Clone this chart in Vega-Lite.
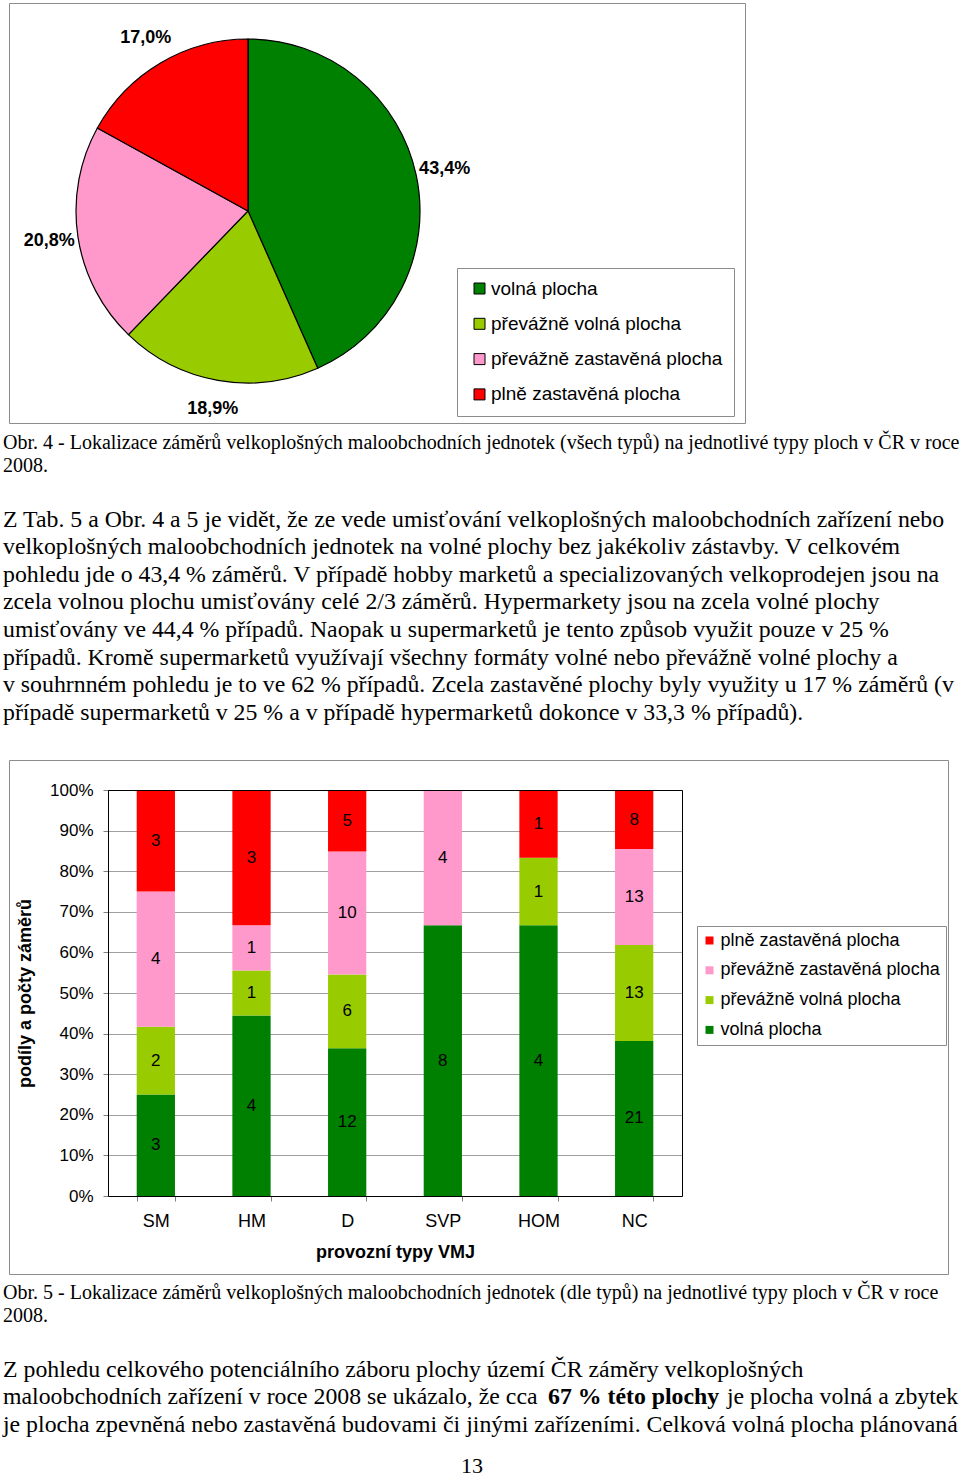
{
  "$schema": "https://vega.github.io/schema/vega-lite/v6.json",
  "padding": {"left": 3, "top": 2, "right": 0, "bottom": 0},
  "background": "white",
  "spacing": 0,
  "bounds": "flush",
  "resolve": {"scale": {"color": "independent"}, "legend": {"color": "independent"}},
  "config": {
    "view": {"stroke": null},
    "font": "Liberation Sans",
    "text": {"font": "Liberation Sans", "color": "black"}
  },
  "vconcat": [
    {
      "width": 736, "height": 420,
      "view": {"stroke": "#8c8c8c", "strokeWidth": 1},
      "data": {"values": [
        {"plocha": "volná plocha", "podil": 43.4, "popisek": "43,4%", "poradi": 1},
        {"plocha": "převážně volná plocha", "podil": 18.9, "popisek": "18,9%", "poradi": 2},
        {"plocha": "převážně zastavěná plocha", "podil": 20.8, "popisek": "20,8%", "poradi": 3},
        {"plocha": "plně zastavěná plocha", "podil": 17.0, "popisek": "17,0%", "poradi": 4}
      ]},
      "layer": [
        {
          "mark": {"type": "arc", "x": 239, "y": 208, "outerRadius": 172, "stroke": "black", "strokeWidth": 1.2},
          "encoding": {
            "theta": {"field": "podil", "type": "quantitative", "stack": true},
            "order": {"field": "poradi", "type": "quantitative"},
            "color": {
              "field": "plocha", "type": "nominal",
              "scale": {
                "domain": ["volná plocha", "převážně volná plocha", "převážně zastavěná plocha", "plně zastavěná plocha"],
                "range": ["#008000", "#99CC00", "#FF99CC", "#FF0000"]
              },
              "legend": {
                "title": null, "orient": "none", "legendX": 448, "legendY": 265,
                "direction": "vertical", "symbolType": "square", "symbolSize": 121,
                "symbolStrokeColor": "black", "symbolStrokeWidth": 1,
                "labelFontSize": 19, "labelFont": "Liberation Sans", "labelColor": "black",
                "rowPadding": 15.3, "padding": 11, "strokeColor": "#8c8c8c", "fillColor": "white",
                "labelOffset": 2, "symbolOffset": 2, "labelLimit": 400
              }
            }
          }
        },
        {
          "mark": {"type": "text", "x": 239, "y": 208, "radius": 201, "fontSize": 18, "fontWeight": "bold", "font": "Liberation Sans", "color": "black"},
          "encoding": {
            "theta": {"field": "podil", "type": "quantitative", "stack": true},
            "order": {"field": "poradi", "type": "quantitative"},
            "text": {"field": "popisek"}
          }
        }
      ]
    },
    {"width": 939, "height": 13.5, "data": {"values": []}, "mark": "text", "encoding": {}},
    {
      "width": 939, "height": 46,
      "data": {"values": [
        {"radek": 1, "text": "Obr. 4 - Lokalizace záměrů velkoplošných maloobchodních jednotek (všech typů) na jednotlivé typy ploch v ČR v roce"},
        {"radek": 2, "text": "2008."}
      ]},
      "mark": {"type": "text", "x": -6, "align": "left", "baseline": "alphabetic", "font": "Liberation Serif", "fontSize": 20, "color": "black"},
      "encoding": {
        "y": {"field": "radek", "type": "ordinal", "axis": null, "scale": {"type": "point", "padding": 0.5}},
        "text": {"field": "text"}
      }
    },
    {"width": 939, "height": 29.9, "data": {"values": []}, "mark": "text", "encoding": {}},
    {
      "width": 939, "height": 220.4,
      "data": {"values": [
        {"radek": 1, "text": "Z Tab. 5 a Obr. 4 a 5 je vidět, že ze vede umisťování velkoplošných maloobchodních zařízení nebo"},
        {"radek": 2, "text": "velkoplošných maloobchodních jednotek na volné plochy bez jakékoliv zástavby. V celkovém"},
        {"radek": 3, "text": "pohledu jde o 43,4 % záměrů. V případě hobby marketů a specializovaných velkoprodejen jsou na"},
        {"radek": 4, "text": "zcela volnou plochu umisťovány celé 2/3 záměrů. Hypermarkety jsou na zcela volné plochy"},
        {"radek": 5, "text": "umisťovány ve 44,4 % případů. Naopak u supermarketů je tento způsob využit pouze v 25 %"},
        {"radek": 6, "text": "případů. Kromě supermarketů využívají všechny formáty volné nebo převážně volné plochy a"},
        {"radek": 7, "text": "v souhrnném pohledu je to ve 62 % případů. Zcela zastavěné plochy byly využity u 17 % záměrů (v"},
        {"radek": 8, "text": "případě supermarketů v 25 % a v případě hypermarketů dokonce v 33,3 % případů)."}
      ]},
      "mark": {"type": "text", "x": -6, "align": "left", "baseline": "alphabetic", "font": "Liberation Serif", "fontSize": 23.8, "color": "black"},
      "encoding": {
        "y": {"field": "radek", "type": "ordinal", "axis": null, "scale": {"type": "point", "padding": 0.5}},
        "text": {"field": "text"}
      }
    },
    {"width": 939, "height": 25.2, "data": {"values": []}, "mark": "text", "encoding": {}},
    {
      "width": 939, "height": 514,
      "view": {"stroke": "#8c8c8c", "strokeWidth": 1},
      "data": {"values": [
        {"vmj": "SM", "druh": "volná plocha", "pocet": 3, "poradi": 1},
        {"vmj": "SM", "druh": "převážně volná plocha", "pocet": 2, "poradi": 2},
        {"vmj": "SM", "druh": "převážně zastavěná plocha", "pocet": 4, "poradi": 3},
        {"vmj": "SM", "druh": "plně zastavěná plocha", "pocet": 3, "poradi": 4},
        {"vmj": "HM", "druh": "volná plocha", "pocet": 4, "poradi": 1},
        {"vmj": "HM", "druh": "převážně volná plocha", "pocet": 1, "poradi": 2},
        {"vmj": "HM", "druh": "převážně zastavěná plocha", "pocet": 1, "poradi": 3},
        {"vmj": "HM", "druh": "plně zastavěná plocha", "pocet": 3, "poradi": 4},
        {"vmj": "D", "druh": "volná plocha", "pocet": 12, "poradi": 1},
        {"vmj": "D", "druh": "převážně volná plocha", "pocet": 6, "poradi": 2},
        {"vmj": "D", "druh": "převážně zastavěná plocha", "pocet": 10, "poradi": 3},
        {"vmj": "D", "druh": "plně zastavěná plocha", "pocet": 5, "poradi": 4},
        {"vmj": "SVP", "druh": "volná plocha", "pocet": 8, "poradi": 1},
        {"vmj": "SVP", "druh": "převážně zastavěná plocha", "pocet": 4, "poradi": 3},
        {"vmj": "HOM", "druh": "volná plocha", "pocet": 4, "poradi": 1},
        {"vmj": "HOM", "druh": "převážně volná plocha", "pocet": 1, "poradi": 2},
        {"vmj": "HOM", "druh": "plně zastavěná plocha", "pocet": 1, "poradi": 4},
        {"vmj": "NC", "druh": "volná plocha", "pocet": 21, "poradi": 1},
        {"vmj": "NC", "druh": "převážně volná plocha", "pocet": 13, "poradi": 2},
        {"vmj": "NC", "druh": "převážně zastavěná plocha", "pocet": 13, "poradi": 3},
        {"vmj": "NC", "druh": "plně zastavěná plocha", "pocet": 8, "poradi": 4}
      ]},
      "layer": [
        {
          "mark": {"type": "bar"},
          "encoding": {
            "x": {
              "field": "vmj", "type": "nominal", "sort": ["SM", "HM", "D", "SVP", "HOM", "NC"],
              "scale": {"range": [99, 673], "paddingInner": 0.6, "paddingOuter": 0.3},
              "axis": {
                "orient": "bottom", "offset": -78, "domainColor": "black", "domainWidth": 1,
                "tickColor": "#808080", "tickSize": 5, "tickBand": "extent",
                "labelFontSize": 18, "labelFont": "Liberation Sans", "labelColor": "black", "labelPadding": 11, "labelAngle": 0,
                "title": "provozní typy VMJ", "titleFont": "Liberation Sans", "titleFontSize": 18, "titleFontWeight": "bold", "titleColor": "black", "titlePadding": 13,
                "grid": false, "zindex": 1
              }
            },
            "y": {
              "field": "pocet", "type": "quantitative", "stack": "normalize",
              "scale": {"range": [436, 30]},
              "axis": {
                "orient": "left", "offset": -99,
                "values": [0, 0.1, 0.2, 0.3, 0.4, 0.5, 0.6, 0.7, 0.8, 0.9, 1], "format": ".0%",
                "grid": true, "gridColor": "#a0a0a0", "gridWidth": 1,
                "domainColor": "black", "domainWidth": 1, "tickColor": "#808080", "tickSize": 5,
                "labelFontSize": 17, "labelFont": "Liberation Sans", "labelColor": "black", "labelPadding": 10,
                "title": "podíly a počty záměrů", "titleFont": "Liberation Sans", "titleFontSize": 18, "titleFontWeight": "bold", "titleColor": "black", "titlePadding": 15,
                "zindex": 0
              }
            },
            "order": {"field": "poradi", "type": "quantitative"},
            "color": {
              "field": "druh", "type": "nominal",
              "scale": {
                "domain": ["plně zastavěná plocha", "převážně zastavěná plocha", "převážně volná plocha", "volná plocha"],
                "range": ["#FF0000", "#FF99CC", "#99CC00", "#008000"]
              },
              "legend": {
                "title": null, "orient": "none", "legendX": 688, "legendY": 166,
                "direction": "vertical", "symbolType": "square", "symbolSize": 64, "symbolStrokeWidth": 0,
                "labelFontSize": 18, "labelFont": "Liberation Sans", "labelColor": "black",
                "rowPadding": 11.8, "padding": 5.5, "strokeColor": "#8c8c8c", "fillColor": "white",
                "labelOffset": 2, "symbolOffset": -2, "labelLimit": 400
              }
            }
          }
        },
        {
          "mark": {"type": "text", "fontSize": 17, "font": "Liberation Sans", "color": "black", "baseline": "middle"},
          "encoding": {
            "x": {
              "field": "vmj", "type": "nominal", "sort": ["SM", "HM", "D", "SVP", "HOM", "NC"],
              "scale": {"range": [99, 673], "paddingInner": 0.6, "paddingOuter": 0.3},
              "axis": {"orient": "top", "offset": -30, "labels": false, "ticks": false, "domainColor": "black", "title": null, "grid": false, "zindex": 1}
            },
            "y": {
              "field": "pocet", "type": "quantitative", "stack": "normalize", "bandPosition": 0.5,
              "scale": {"range": [436, 30]},
              "axis": {"orient": "right", "offset": -266, "labels": false, "ticks": false, "domainColor": "black", "title": null, "grid": false, "zindex": 1}
            },
            "order": {"field": "poradi", "type": "quantitative"},
            "detail": {"field": "druh"},
            "text": {"field": "pocet"}
          }
        }
      ],
      "resolve": {"axis": {"x": "independent", "y": "independent"}}
    },
    {"width": 939, "height": 12.5, "data": {"values": []}, "mark": "text", "encoding": {}},
    {
      "width": 939, "height": 46,
      "data": {"values": [
        {"radek": 1, "text": "Obr. 5 - Lokalizace záměrů velkoplošných maloobchodních jednotek (dle typů) na jednotlivé typy ploch v ČR v roce"},
        {"radek": 2, "text": "2008."}
      ]},
      "mark": {"type": "text", "x": -6, "align": "left", "baseline": "alphabetic", "font": "Liberation Serif", "fontSize": 20, "color": "black"},
      "encoding": {
        "y": {"field": "radek", "type": "ordinal", "axis": null, "scale": {"type": "point", "padding": 0.5}},
        "text": {"field": "text"}
      }
    },
    {"width": 939, "height": 29.2, "data": {"values": []}, "mark": "text", "encoding": {}},
    {
      "width": 939, "height": 82.65,
      "layer": [
        {
          "data": {"values": [
            {"radek": 1, "usek": 0, "text": "Z pohledu celkového potenciálního záboru plochy území ČR záměry velkoplošných"},
            {"radek": 2, "usek": 0, "text": "maloobchodních zařízení v roce 2008 se ukázalo, že cca"},
            {"radek": 2, "usek": 2, "text": "je plocha volná a zbytek"},
            {"radek": 3, "usek": 0, "text": "je plocha zpevněná nebo zastavěná budovami či jinými zařízeními. Celková volná plocha plánovaná"}
          ]},
          "mark": {"type": "text", "align": "left", "baseline": "alphabetic", "font": "Liberation Serif", "fontSize": 23.8, "color": "black"},
          "encoding": {
            "y": {"field": "radek", "type": "ordinal", "axis": null, "scale": {"type": "point", "padding": 0.5}},
            "x": {"field": "usek", "type": "quantitative", "axis": null, "scale": {"domain": [0, 1, 2], "range": [-6, 539, 718], "zero": false, "nice": false}},
            "text": {"field": "text"}
          }
        },
        {
          "data": {"values": [
            {"radek": 2, "usek": 1, "text": "67 % této plochy"}
          ]},
          "mark": {"type": "text", "align": "left", "baseline": "alphabetic", "font": "Liberation Serif", "fontSize": 23.8, "fontWeight": "bold", "color": "black"},
          "encoding": {
            "y": {"field": "radek", "type": "ordinal", "axis": null, "scale": {"type": "point", "padding": 0.5}},
            "x": {"field": "usek", "type": "quantitative", "axis": null, "scale": {"domain": [0, 1, 2], "range": [-6, 539, 718], "zero": false, "nice": false}},
            "text": {"field": "text"}
          }
        }
      ]
    },
    {"width": 939, "height": 19.6, "data": {"values": []}, "mark": "text", "encoding": {}},
    {
      "width": 926, "height": 14,
      "data": {"values": [{"strana": "13"}]},
      "mark": {"type": "text", "baseline": "alphabetic", "align": "center", "font": "Liberation Serif", "fontSize": 22, "color": "black"},
      "encoding": {"text": {"field": "strana"}}
    }
  ]
}
